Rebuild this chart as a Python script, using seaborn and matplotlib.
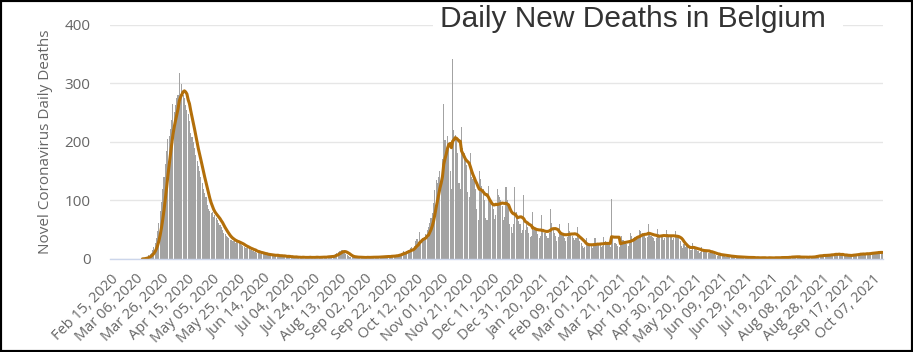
import numpy as np
import pandas as pd
import matplotlib
matplotlib.use("Agg")
import matplotlib.pyplot as plt
import seaborn as sns
from matplotlib.patches import Rectangle

# ---------------- data (daily new deaths) ----------------
start_date = "2020-02-15"
tick_step = 20
title_text = "Daily New Deaths in Belgium"
y_label = "Novel Coronavirus Daily Deaths"
y_ticks = [0, 100, 200, 300, 400]

feb_2020 = [0, 0, 0, 0, 0, 0, 0, 0, 0, 0, 0, 0, 0, 0, 0]
mar_2020 = [0, 0, 0, 0, 0, 0, 0, 0, 0, 0, 1, 1, 2, 3, 4, 6, 8, 10, 15, 20,
            27, 36, 48, 62, 82, 98, 120, 140, 162, 185, 205]
apr_2020 = [210, 222, 237, 265, 250, 262, 275, 280, 318, 282, 298, 280, 275, 262, 255,
            248, 236, 215, 208, 200, 190, 178, 168, 158, 150, 140, 130, 120, 112, 105]
may_2020 = [92, 85, 82, 78, 80, 72, 75, 70, 66, 62, 58, 55, 50, 45, 42, 40,
            38, 35, 33, 32, 30, 31, 28, 30, 27, 28, 25, 24, 22, 20, 19]
jun_2020 = [18, 21, 17, 15, 16, 13, 12, 14, 11, 10, 12, 9, 10, 8, 9, 7, 8, 6,
            7, 8, 5, 7, 6, 5, 7, 6, 4, 5, 6, 4]
jul_2020 = [5, 4, 3, 5, 4, 3, 4, 2, 3, 4, 3, 2, 3, 2, 4, 3, 2, 3, 2, 3, 4, 2,
            3, 2, 3, 4, 3, 2, 3, 4, 3]
aug_2020 = [3, 4, 3, 5, 4, 4, 5, 5, 6, 9, 10, 12, 14, 13, 15, 14, 11, 8, 6, 5,
            4, 3, 4, 3, 3, 4, 3, 2, 3, 3, 2]
sep_2020 = [3, 2, 3, 4, 2, 3, 3, 4, 2, 3, 4, 3, 3, 4, 5, 3, 4, 4, 5, 4, 5, 4,
            6, 5, 5, 6, 7, 6, 8, 9]
oct_2020 = [11, 13, 12, 10, 14, 16, 15, 18, 20, 17, 22, 30, 34, 26, 46, 30, 36,
            33, 38, 42, 50, 55, 62, 70, 78, 95, 118, 135, 130, 140, 150]
nov_2020 = [140, 170, 265, 203, 186, 210, 195, 150, 120, 342, 220, 212, 203, 180,
            130, 120, 225, 190, 180, 170, 160, 115, 105, 180, 140, 137, 135, 120, 85, 66]
dec_2020 = [150, 137, 125, 120, 100, 70, 66, 125, 106, 100, 95, 85, 68, 75, 120,
            110, 105, 100, 90, 66, 72, 123, 100, 95, 60, 55, 45, 60, 123, 80, 70]
jan_2021 = [65, 60, 45, 50, 110, 50, 60, 55, 45, 38, 40, 80, 50, 52, 48, 42, 35,
            40, 75, 50, 45, 44, 40, 36, 45, 85, 62, 50, 45, 40, 30]
feb_2021 = [38, 60, 45, 42, 40, 35, 30, 38, 62, 48, 45, 40, 36, 32, 35, 55, 35,
            30, 28, 22, 18, 20, 35, 25, 24, 26, 22, 18]
mar_2021 = [22, 35, 28, 27, 25, 24, 20, 22, 38, 30, 27, 25, 24, 20, 102, 35, 28,
            27, 26, 22, 20, 25, 40, 32, 30, 28, 26, 22, 28, 45, 40]
apr_2021 = [35, 38, 36, 34, 35, 50, 48, 45, 42, 40, 35, 38, 60, 45, 40, 38, 35,
            30, 36, 52, 42, 40, 40, 38, 32, 35, 50, 42, 40, 40]
may_2021 = [38, 32, 35, 48, 40, 38, 36, 30, 22, 18, 25, 20, 22, 20, 18, 15, 16,
            28, 18, 17, 15, 14, 11, 12, 20, 15, 14, 14, 12, 10, 11]
jun_2021 = [12, 14, 9, 8, 7, 5, 6, 10, 8, 7, 6, 5, 4, 4, 7, 5, 4, 5, 3, 2, 3, 5,
            4, 3, 3, 2, 2, 3, 4, 3]
jul_2021 = [2, 3, 2, 1, 3, 2, 2, 3, 2, 1, 2, 3, 2, 2, 1, 2, 3, 2, 2, 1, 2, 3, 2,
            3, 2, 2, 3, 2, 3, 2, 3]
aug_2021 = [3, 4, 3, 5, 4, 3, 4, 3, 4, 3, 2, 4, 3, 3, 4, 3, 2, 4, 3, 4, 5, 4, 6,
            5, 6, 7, 5, 6, 7, 6, 6]
sep_2021 = [7, 8, 6, 9, 8, 7, 10, 8, 7, 9, 6, 7, 8, 5, 6, 7, 6, 5, 7, 6, 8, 7, 9,
            8, 7, 9, 10, 8, 9, 8]
oct_2021 = [9, 10, 8, 11, 10, 12, 9, 11, 12, 10, 13, 11, 12, 10]

deaths = (feb_2020 + mar_2020 + apr_2020 + may_2020 + jun_2020 + jul_2020 +
          aug_2020 + sep_2020 + oct_2020 + nov_2020 + dec_2020 + jan_2021 +
          feb_2021 + mar_2021 + apr_2021 + may_2021 + jun_2021 + jul_2021 +
          aug_2021 + sep_2021 + oct_2021)

dates = pd.date_range(start_date, periods=len(deaths), freq="D")
df = pd.DataFrame({"day": np.arange(len(deaths)), "deaths": deaths})
df["avg"] = df["deaths"].rolling(7, min_periods=1).mean()
first_case = int(np.argmax(np.array(deaths) > 0))
line_df = df[df["day"] >= first_case]

# ---------------- style ----------------
sns.set_theme(style="white")
plt.rcParams["font.family"] = ["Open Sans", "DejaVu Sans"]

W, H = 913, 352
fig = plt.figure(figsize=(W / 100, H / 100), dpi=100)
fig.patch.set_facecolor("white")
ax = fig.add_axes([110 / W, 1 - 259 / H, (883 - 110) / W, (259 - 24.5) / H])

sns.barplot(data=df, x="day", y="deaths", native_scale=True, color="#a3a3a3",
            saturation=1, width=0.85, linewidth=0, errorbar=None, ax=ax)
sns.lineplot(data=line_df, x="day", y="avg", color="#b36f0a", linewidth=2.2, ax=ax)

ax.set_xlim(-0.5, len(deaths) - 0.5)
ax.set_ylim(0, 400)
ax.set_yticks(y_ticks)
ax.yaxis.grid(True, color="#e6e6e6", linewidth=1)
ax.xaxis.grid(False)
ax.set_axisbelow(True)
for s in ["top", "right", "left"]:
    ax.spines[s].set_visible(False)
ax.spines["bottom"].set_color("#ccd6eb")
ax.spines["bottom"].set_linewidth(1)

ticks = np.arange(0, len(deaths), tick_step)
ax.set_xticks(ticks)
ax.set_xticklabels([dates[i].strftime("%b %d, %Y") for i in ticks],
                   rotation=45, ha="right", va="top", rotation_mode="anchor")
ax.tick_params(axis="x", length=0, pad=9, labelsize=10.5, labelcolor="#666666")
ax.tick_params(axis="y", length=0, pad=14, labelsize=11, labelcolor="#666666")
ax.set_xlabel("")
ax.set_ylabel(y_label, fontsize=11, color="#666666")
ax.yaxis.set_label_coords((53 - 110) / 773, 0.5)

# white band behind title (covers top gridline) and title
fig.add_artist(Rectangle((433 / W, 1 - 34 / H), (843 - 433) / W, 30 / H,
                         transform=fig.transFigure, facecolor="white",
                         edgecolor="none", zorder=5))
fig.text(440 / W, 1 - 27 / H, title_text, ha="left", va="baseline",
         fontsize=21.5, color="#333333", family=["Liberation Sans", "DejaVu Sans"],
         zorder=6)

# black frame around image
fig.add_artist(Rectangle((0, 0), 1, 1, transform=fig.transFigure, fill=False,
                         edgecolor="black", linewidth=3, zorder=10))

fig.savefig("out.png", dpi=100, facecolor="white")
